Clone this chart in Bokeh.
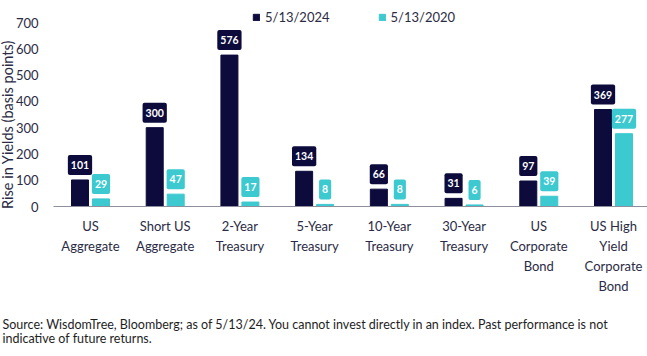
import numpy as np
from bokeh.plotting import figure
from bokeh.models import (ColumnDataSource, Range1d, FixedTicker, Legend, LegendItem, Label)
from bokeh.core.properties import value
from bokeh.embed import file_html
from bokeh.resources import INLINE

# Rise in yields (basis points) by index
categories = ["US\nAggregate", "Short US\nAggregate", "2-Year\nTreasury", "5-Year\nTreasury",
              "10-Year\nTreasury", "30-Year\nTreasury", "US\nCorporate\nBond",
              "US High\nYield\nCorporate\nBond"]
series_names = ["5/13/2024", "5/13/2020"]
rise_2024 = [101, 300, 576, 134, 66, 31, 97, 369]
rise_2020 = [29, 47, 17, 8, 8, 6, 39, 277]
y_ticks = [0, 100, 200, 300, 400, 500, 600, 700]
y_title = "Rise in Yields (basis points)"
note_lines = ["Source: WisdomTree, Bloomberg; as of 5/13/24. You cannot invest directly in an index. "
              "Past performance is not",
              "indicative of future returns."]

NAVY = "#0c0b3c"
CYAN = "#3cc9d0"
TEXT = "#2b2b45"
FONT = "Lato"

idx = np.arange(len(categories))
offset = 0.1405
bar_w = 0.2275
x_lo, x_hi = -0.495, 7.455          # extent of the category axis

src_a = ColumnDataSource(dict(x=idx - offset, top=rise_2024, lbl=[str(v) for v in rise_2024]))
src_b = ColumnDataSource(dict(x=idx + offset, top=rise_2020, lbl=[str(v) for v in rise_2020]))

# the plotting area fills the whole canvas; axes are pinned inside it
p = figure(width=647, height=356, output_backend="svg", toolbar_location=None,
           x_range=Range1d(-1.2044, 7.455), y_range=Range1d(-570.6, 783.7),
           min_border_left=0, min_border_right=0, min_border_top=0, min_border_bottom=0)
p.outline_line_color = None
p.xgrid.visible = False
p.ygrid.visible = False
p.background_fill_color = "white"

r_a = p.vbar(x="x", top="top", width=bar_w, source=src_a, color=NAVY)
r_b = p.vbar(x="x", top="top", width=bar_w, source=src_b, color=CYAN)

# value boxes floating just above each bar
for src, col in ((src_a, NAVY), (src_b, CYAN)):
    p.text(x="x", y="top", text="lbl", source=src, text_font=value(FONT),
           text_font_style="bold", text_font_size="10.5px", text_color="white",
           text_align="center", text_baseline="bottom", y_offset=-5,
           background_fill_color=col, padding=(3, 6), border_radius=2)

# x axis
xa = p.xaxis[0]
xa.fixed_location = 0
xa.bounds = (x_lo, x_hi)
xa.ticker = FixedTicker(ticks=list(idx))
xa.major_label_overrides = {int(i): c for i, c in zip(idx, categories)}
xa.major_tick_line_color = None
xa.major_tick_out = 0
xa.major_tick_in = 0
xa.minor_tick_line_color = None
xa.axis_line_color = "#8d909c"
xa.major_label_standoff = 11
xa.major_label_text_font = FONT
xa.major_label_text_font_size = "13px"
xa.major_label_text_color = TEXT
xa.major_label_text_line_height = 1.25

# y axis
ya = p.yaxis[0]
ya.fixed_location = x_lo
ya.ticker = FixedTicker(ticks=y_ticks)
ya.axis_line_color = None
ya.major_tick_line_color = None
ya.major_tick_out = 0
ya.major_tick_in = 0
ya.minor_tick_line_color = None
ya.major_label_standoff = 15
ya.major_label_text_font = FONT
ya.major_label_text_font_size = "13px"
ya.major_label_text_color = TEXT

p.add_layout(Label(x=7, y=232, x_units="screen", y_units="screen", text=y_title,
                   angle=np.pi / 2, text_font=FONT, text_font_size="14.5px",
                   text_color=TEXT, text_align="center", text_baseline="middle"))

legend = Legend(items=[LegendItem(label=series_names[0], renderers=[r_a]),
                       LegendItem(label=series_names[1], renderers=[r_b])],
                orientation="horizontal", location=(252, 331),
                glyph_width=8, glyph_height=8, label_standoff=5, spacing=48,
                padding=0, margin=0, label_height=10,
                label_text_font=FONT, label_text_font_size="13px", label_text_color=TEXT,
                border_line_color=None, background_fill_alpha=0)
p.add_layout(legend)

# source note along the bottom
for txt, yy in zip(note_lines, (32, 18)):
    p.add_layout(Label(x=2, y=yy, x_units="screen", y_units="screen", text=txt,
                       text_font=FONT, text_font_size="12.5px", text_color="#1e1e1e",
                       text_baseline="middle"))

open("out.html", "w").write(file_html(p, INLINE))
